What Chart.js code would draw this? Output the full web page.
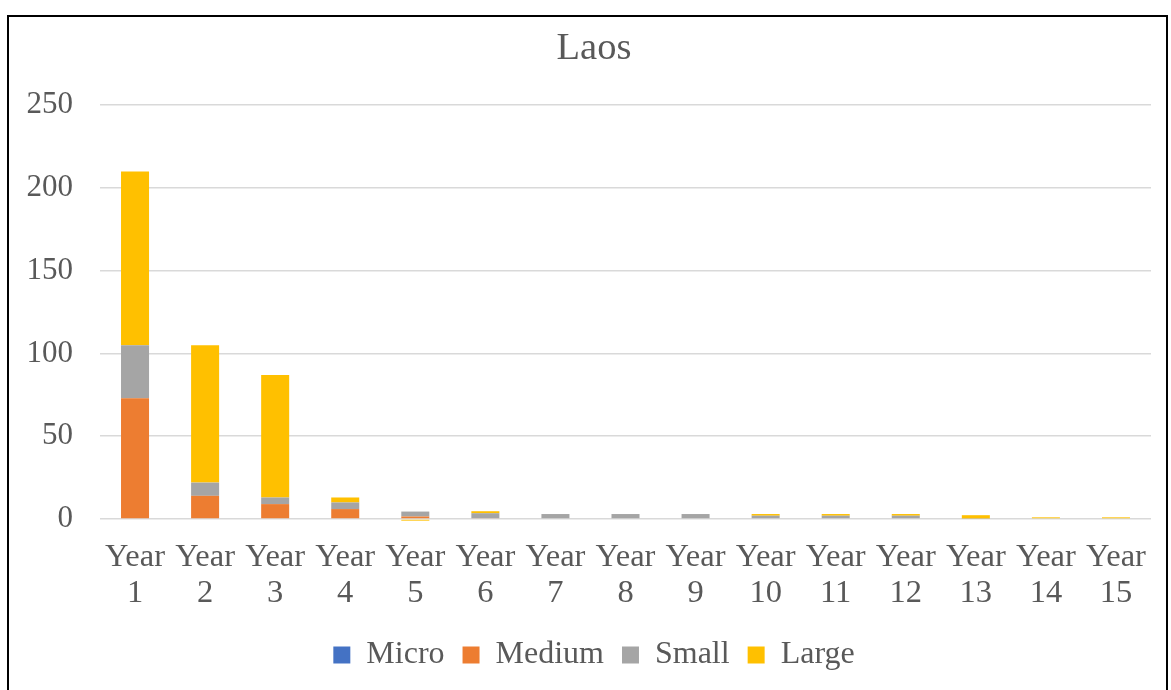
<!DOCTYPE html>
<html>
<head>
<meta charset="utf-8">
<title>Laos</title>
<script src="https://cdn.jsdelivr.net/npm/chart.js@4"></script>
<style>
  html, body { margin: 0; padding: 0; background: #fff; }
  #wrap { position: relative; width: 1171px; height: 690px; }
</style>
</head>
<body>
<div id="wrap"><canvas id="graph" width="1171" height="690"></canvas></div>
<script>
// chart values
const years = ['1', '2', '3', '4', '5', '6', '7', '8', '9', '10', '11', '12', '13', '14', '15'];
const micro = [0, 0, 0, 0, 0, 0, 0, 0, 0, 0, 0, 0, 0, 0, 0];
const medium = [73, 14, 9, 6, 1.5, 0.5, 0, 0, 0, 0, 0, 0, 0, 0, 0];
const small = [32, 8, 4, 4, 3, 3, 3, 3, 3, 2, 2, 2, 0.3, 0, 0];
const large = [105, 83, 74, 3, -1, 1.2, 0, 0, 0, 1, 1, 1, 2, 1, 1];
const yTicks = [0, 50, 100, 150, 200, 250];

window.onload = function () {
  loadChart(document.querySelector("#graph"));
}

//white page and the thin black frame round the chart
const framePlugin = {
  id: 'frame',
  beforeDraw(chart) {
    const c = chart.ctx;
    c.save();
    c.fillStyle = '#fff';
    c.fillRect(0, 0, chart.width, chart.height);
    c.strokeStyle = '#000';
    c.lineWidth = 2;
    c.beginPath();
    c.moveTo(8, chart.height);
    c.lineTo(8, 16);
    c.lineTo(1167, 16);
    c.lineTo(1167, chart.height);
    c.stroke();
    c.restore();
  }
};

function loadChart(element) {
  const font = "'Liberation Serif', 'Times New Roman', serif";
  const grey = '#595959';

  const bar = (label, data, color) => ({
    label: label,
    data: data,
    backgroundColor: color,
    borderWidth: 0,
    categoryPercentage: 1,
    barPercentage: 0.4,
    clip: false
  });

  new Chart(element, {
    type: 'bar',
    data: {
      labels: years.map(y => ['Year', y]),
      datasets: [
        bar('Micro', micro, '#4472C4'),
        bar('Medium', medium, '#ED7D31'),
        bar('Small', small, '#A5A5A5'),
        bar('Large', large, '#FFC000')
      ]
    },
    options: {
      responsive: false,
      animation: false,
      layout: { padding: { top: 0, right: 0, bottom: 9, left: 17 } },
      plugins: {
        title: {
          display: true,
          text: 'Laos',
          color: grey,
          font: { family: font, size: 38.5, weight: 'normal' },
          padding: { top: 26, bottom: 33 }
        },
        legend: {
          position: 'bottom',
          labels: {
            boxWidth: 17,
            boxHeight: 17,
            padding: 18,
            color: grey,
            font: { family: font, size: 32 }
          }
        },
        tooltip: { enabled: false }
      },
      scales: {
        x: {
          stacked: true,
          grid: { display: false },
          border: { display: false },
          ticks: {
            color: grey,
            font: { family: font, size: 32.5, lineHeight: 1.1 },
            padding: 13,
            maxRotation: 0,
            autoSkip: false
          },
          afterFit: (scale) => { scale.height = 102; }
        },
        y: {
          stacked: true,
          min: 0,
          max: 250,
          afterBuildTicks: (scale) => { scale.ticks = yTicks.map(v => ({ value: v })); },
          grid: { color: '#D9D9D9', lineWidth: 1.5, drawTicks: false },
          border: { display: false },
          ticks: {
            color: grey,
            font: { family: font, size: 31 },
            padding: 27
          },
          afterFit: (scale) => { scale.width = 83; }
        },
        // empty strip on the right so the plot ends where the reference does
        gap: {
          position: 'right',
          grid: { display: false, drawTicks: false },
          border: { display: false },
          ticks: { display: false },
          afterFit: (scale) => { scale.width = 20; }
        }
      }
    },
    plugins: [framePlugin]
  });
}
</script>
</body>
</html>
